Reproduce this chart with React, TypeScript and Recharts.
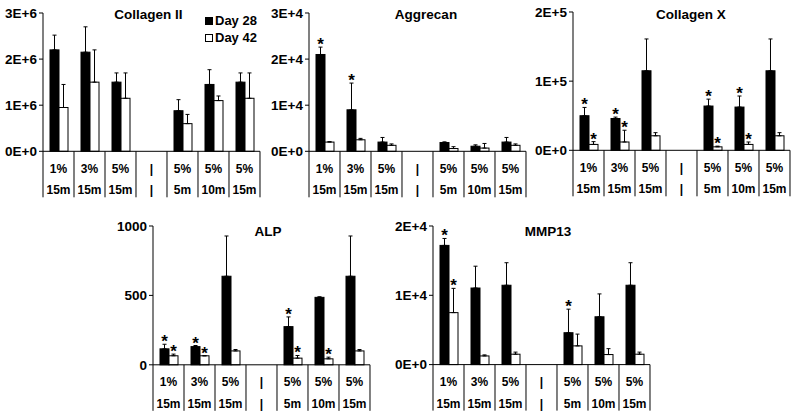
import React from 'react';
import { BarChart, Bar, XAxis, YAxis, ErrorBar } from 'recharts';

// category table below each panel
const concentrations = ['1%', '3%', '5%', '|', '5%', '5%', '5%'];
const durations = ['15m', '15m', '15m', '|', '5m', '10m', '15m'];

// Collagen II
const col2Day28 = [2200000, 2150000, 1500000, null, 880000, 1450000, 1500000];
const col2Day28Err = [320000, 550000, 200000, 0, 240000, 320000, 200000];
const col2Day42 = [950000, 1500000, 1150000, null, 600000, 1100000, 1150000];
const col2Day42Err = [500000, 700000, 550000, 0, 200000, 100000, 550000];
const col2Star28 = [0, 0, 0, 0, 0, 0, 0];
const col2Star42 = [0, 0, 0, 0, 0, 0, 0];
const col2Ticks = [0, 1000000, 2000000, 3000000];

// Aggrecan
const aggDay28 = [21000, 9000, 2000, null, 1900, 1100, 2000];
const aggDay28Err = [1600, 5800, 1000, 0, 150, 300, 1000];
const aggDay42 = [2000, 2500, 1300, null, 600, 700, 1300];
const aggDay42Err = [100, 300, 300, 0, 400, 1000, 300];
const aggStar28 = [1, 1, 0, 0, 0, 0, 0];
const aggStar42 = [0, 0, 0, 0, 0, 0, 0];
const aggTicks = [0, 10000, 20000, 30000];

// Collagen X
const colXDay28 = [50000, 46000, 115000, null, 64000, 62500, 115000];
const colXDay28Err = [12000, 2000, 46000, 0, 10000, 16000, 46000];
const colXDay42 = [8500, 12000, 21000, null, 5000, 8500, 21000];
const colXDay42Err = [4000, 17000, 4500, 0, 1000, 3500, 4500];
const colXStar28 = [1, 1, 0, 0, 1, 1, 0];
const colXStar42 = [1, 1, 0, 0, 1, 1, 0];
const colXTicks = [0, 100000, 200000];

// ALP
const alpDay28 = [115, 131, 638, null, 275, 486, 638];
const alpDay28Err = [33, 8, 290, 0, 70, 4, 290];
const alpDay42 = [65, 65, 100, null, 48, 43, 100];
const alpDay42Err = [12, 0, 10, 0, 19, 12, 10];
const alpStar28 = [1, 1, 0, 0, 1, 0, 0];
const alpStar42 = [1, 1, 0, 0, 1, 1, 0];
const alpTicks = [0, 500, 1000];

// MMP13
const mmpDay28 = [17200, 11050, 11450, null, 4600, 6900, 11450];
const mmpDay28Err = [1000, 3150, 3250, 0, 3400, 3300, 3250];
const mmpDay42 = [7500, 1250, 1500, null, 2700, 1450, 1500];
const mmpDay42Err = [3500, 150, 300, 0, 1700, 850, 300];
const mmpStar28 = [1, 0, 0, 0, 1, 0, 0];
const mmpStar42 = [1, 0, 0, 0, 0, 0, 0];
const mmpTicks = [0, 10000, 20000];

const FONT = '"Liberation Sans", Arial, Helvetica, sans-serif';
const PLOT_W = 217;
const TABLE_H = 48;
const Y_W = 44;
const TOP_PAD = 10;

const sci = (v: number) => {
  if (v === 0) return '0E+0';
  const e = Math.floor(Math.log10(v));
  return `${Math.round(v / Math.pow(10, e))}E+${e}`;
};
const plain = (v: number) => String(v);

const buildRows = (
  d28: (number | null)[], e28: number[], s28: number[],
  d42: (number | null)[], e42: number[], s42: number[],
) =>
  concentrations.map((c, i) => ({
    conc: c,
    d28: d28[i],
    e28: [0, e28[i]],
    s28: s28[i],
    d42: d42[i],
    e42: [0, e42[i]],
    s42: s42[i],
  }));

const makeShape = (fill: string, valKey: string, errKey: string, starKey: string) => (props: any) => {
  const { x, y, width, height, payload } = props;
  const v = payload?.[valKey];
  if (v == null) return <g />;
  const pxPerUnit = v ? height / v : 0;
  const errTop = y - (payload[errKey]?.[1] ?? 0) * pxPerUnit;
  return (
    <g>
      <rect x={x} y={y} width={width} height={height} fill={fill} stroke="#000" strokeWidth={1} />
      {payload[starKey] ? (
        <text x={x + width / 2} y={errTop + 3} textAnchor="middle" fontSize={17} fontWeight="bold" fontFamily={FONT} fill="#000">
          *
        </text>
      ) : null}
    </g>
  );
};

const TableTick = (props: any) => {
  const { x, y, index } = props;
  const half = PLOT_W / concentrations.length / 2;
  const last = index === concentrations.length - 1;
  const txt = { textAnchor: 'middle' as const, fontSize: 12, fontWeight: 'bold', fontFamily: FONT, fill: '#000' };
  return (
    <g>
      <line x1={x - half} x2={x - half} y1={y} y2={y + TABLE_H - 2} stroke="#000" strokeWidth={1} />
      {last ? <line x1={x + half} x2={x + half} y1={y} y2={y + TABLE_H - 2} stroke="#000" strokeWidth={1} /> : null}
      <text x={x} y={y + 21.5} {...txt}>{concentrations[index]}</text>
      <text x={x} y={y + 43} {...txt}>{durations[index]}</text>
    </g>
  );
};

type PanelProps = {
  rows: any[];
  ticks: number[];
  fmt: (v: number) => string;
  axisX: number;
  plotTop: number;
  plotBottom: number;
};

const Panel: React.FC<PanelProps> = ({ rows, ticks, fmt, axisX, plotTop, plotBottom }) => {
  const plotH = plotBottom - plotTop;
  return (
    <div style={{ position: 'absolute', left: axisX - Y_W, top: plotTop - TOP_PAD }}>
      <BarChart
        width={Y_W + PLOT_W + 4}
        height={TOP_PAD + plotH + TABLE_H}
        data={rows}
        margin={{ top: TOP_PAD, right: 4, left: 0, bottom: 0 }}
        barGap={0}
      >
        <XAxis
          dataKey="conc"
          axisLine={{ stroke: '#000' }}
          tickLine={false}
          tickSize={0}
          tickMargin={0}
          height={TABLE_H}
          interval={0}
          tick={(p: any) => <TableTick {...p} />}
        />
        <YAxis
          domain={[0, ticks[ticks.length - 1]]}
          ticks={ticks}
          interval={0}
          tickFormatter={fmt}
          width={Y_W}
          tickSize={4}
          axisLine={{ stroke: '#000' }}
          tickLine={{ stroke: '#000' }}
          tick={{ fill: '#000', fontSize: 13.5, fontWeight: 'bold', fontFamily: FONT }}
        />
        <Bar dataKey="d28" barSize={9} isAnimationActive={false} shape={makeShape('#000', 'd28', 'e28', 's28')}>
          <ErrorBar dataKey="e28" direction="y" width={2} strokeWidth={1} stroke="#000" />
        </Bar>
        <Bar dataKey="d42" barSize={9} isAnimationActive={false} shape={makeShape('#fff', 'd42', 'e42', 's42')}>
          <ErrorBar dataKey="e42" direction="y" width={2} strokeWidth={1} stroke="#000" />
        </Bar>
      </BarChart>
    </div>
  );
};

const titleStyle = (cx: number, cy: number): React.CSSProperties => ({
  position: 'absolute',
  left: cx - 60,
  top: cy - 8,
  width: 120,
  textAlign: 'center',
  fontFamily: FONT,
  fontWeight: 'bold',
  fontSize: 13.5,
  lineHeight: '16px',
  color: '#000',
});

const legendRow: React.CSSProperties = {
  display: 'flex',
  alignItems: 'center',
  height: 17,
  fontFamily: FONT,
  fontWeight: 'bold',
  fontSize: 13,
  color: '#000',
};

export default function App() {
  const col2Rows = buildRows(col2Day28, col2Day28Err, col2Star28, col2Day42, col2Day42Err, col2Star42);
  const aggRows = buildRows(aggDay28, aggDay28Err, aggStar28, aggDay42, aggDay42Err, aggStar42);
  const colXRows = buildRows(colXDay28, colXDay28Err, colXStar28, colXDay42, colXDay42Err, colXStar42);
  const alpRows = buildRows(alpDay28, alpDay28Err, alpStar28, alpDay42, alpDay42Err, alpStar42);
  const mmpRows = buildRows(mmpDay28, mmpDay28Err, mmpStar28, mmpDay42, mmpDay42Err, mmpStar42);

  return (
    <div style={{ position: 'absolute', left: 0, top: 0, width: 800, height: 417, background: '#fff', overflow: 'hidden' }}>
      <Panel rows={col2Rows} ticks={col2Ticks} fmt={sci} axisX={43} plotTop={12.7} plotBottom={151} />
      <Panel rows={aggRows} ticks={aggTicks} fmt={sci} axisX={309} plotTop={12.7} plotBottom={151} />
      <Panel rows={colXRows} ticks={colXTicks} fmt={sci} axisX={573} plotTop={11.7} plotBottom={150} />
      <Panel rows={alpRows} ticks={alpTicks} fmt={plain} axisX={153} plotTop={225.7} plotBottom={364.5} />
      <Panel rows={mmpRows} ticks={mmpTicks} fmt={sci} axisX={433} plotTop={225.7} plotBottom={364.3} />

      <div style={titleStyle(148.5, 14.7)}>Collagen II</div>
      <div style={titleStyle(426, 14.7)}>Aggrecan</div>
      <div style={titleStyle(691, 14.7)}>Collagen X</div>
      <div style={titleStyle(268, 232)}>ALP</div>
      <div style={titleStyle(548, 232)}>MMP13</div>

      <div style={{ position: 'absolute', left: 205, top: 12 }}>
        <div style={legendRow}>
          <span style={{ display: 'inline-block', width: 6, height: 6, background: '#000', border: '1px solid #000', marginRight: 2 }} />
          Day 28
        </div>
        <div style={legendRow}>
          <span style={{ display: 'inline-block', width: 6, height: 6, background: '#fff', border: '1px solid #000', marginRight: 2 }} />
          Day 42
        </div>
      </div>
    </div>
  );
}
